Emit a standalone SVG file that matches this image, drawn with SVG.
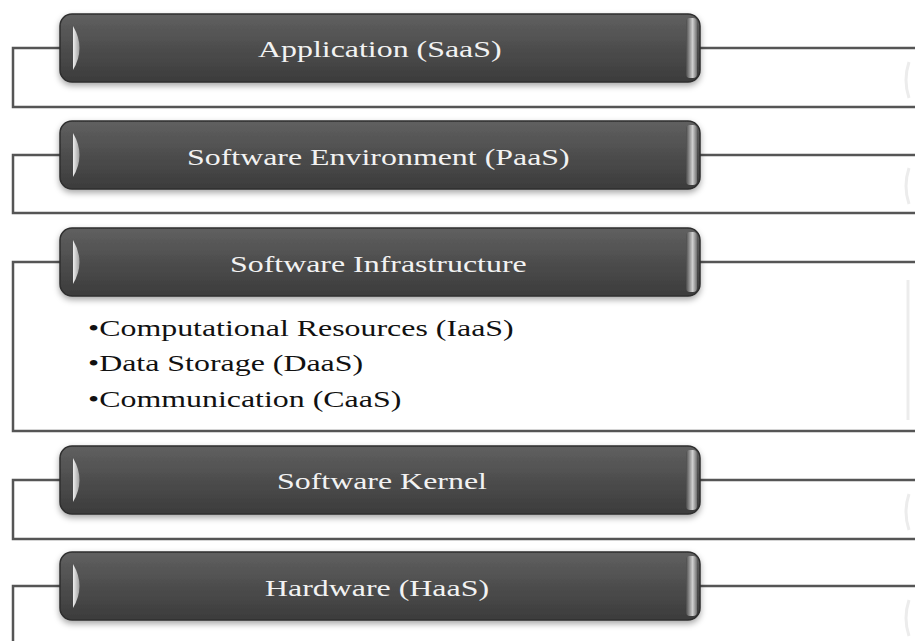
<svg xmlns="http://www.w3.org/2000/svg" width="915" height="641" viewBox="0 0 915 641">
<defs>
<linearGradient id="barG" x1="0" y1="0" x2="0" y2="1">
<stop offset="0" stop-color="#606060"/>
<stop offset="0.5" stop-color="#4d4d4d"/>
<stop offset="1" stop-color="#3c3c3c"/>
</linearGradient>
<linearGradient id="rG" x1="0" y1="0" x2="1" y2="0">
<stop offset="0" stop-color="#4a4a4a"/>
<stop offset="0.6" stop-color="#d0d0d0"/>
<stop offset="1" stop-color="#707070"/>
</linearGradient>
<linearGradient id="lG" x1="0" y1="0" x2="1" y2="0">
<stop offset="0" stop-color="#eeeeee"/>
<stop offset="1" stop-color="#a0a0a0"/>
</linearGradient>
<filter id="sh" x="-5%" y="-20%" width="110%" height="150%">
<feDropShadow dx="0" dy="3" stdDeviation="3" flood-color="#000" flood-opacity="0.35"/>
</filter>
<g id="bar">
<rect x="60" y="0" width="640" height="68" rx="12" fill="url(#barG)" stroke="#2e2e2e" stroke-width="1.5" filter="url(#sh)"/>
<rect x="686" y="4" width="11" height="60" rx="4" fill="url(#rG)"/>
<path d="M73,12 Q86,34 73,56 Z" fill="url(#lG)"/>
</g>
</defs>
<style>
.fr{fill:none;stroke:#555;stroke-width:2.5}
.inner{fill:none;stroke:#ececec;stroke-width:3}
.t{font-family:"Liberation Serif","Times New Roman",serif;font-size:24px;fill:#f2f2f2}
.b{font-family:"Liberation Serif","Times New Roman",serif;font-size:24px;fill:#111}
</style>
<rect width="915" height="641" fill="#ffffff"/>
<g id="connectors">
<path class="fr" d="M60,48 H13 V107 H915 M700,48 H915"/>
<path class="fr" d="M60,155 H13 V213 H915 M700,155 H915"/>
<path class="fr" d="M60,262 H13 V431 H915 M700,262 H915"/>
<path class="fr" d="M60,480 H13 V539 H915 M700,480 H915"/>
<path class="fr" d="M60,586 H13 V645 M700,586 H915"/>
<path class="inner" d="M909,62 Q903,80 909,98"/>
<path class="inner" d="M909,168 Q903,186 909,204"/>
<path class="inner" d="M908,280 V420"/>
<path class="inner" d="M909,494 Q903,512 909,530"/>
<path class="inner" d="M909,600 Q903,618 909,636"/>
</g>
<g id="n1">
<use href="#bar" y="14"/>
<text class="t" transform="translate(258,57) scale(1.33,1)">Application (SaaS)</text>
</g>
<g id="n2">
<use href="#bar" y="121"/>
<text class="t" transform="translate(187,165) scale(1.33,1)">Software Environment (PaaS)</text>
</g>
<g id="n3">
<use href="#bar" y="228"/>
<text class="t" transform="translate(230,272) scale(1.33,1)">Software Infrastructure</text>
<text class="b" transform="translate(88,336) scale(1.33,1)">•Computational Resources (IaaS)</text>
<text class="b" transform="translate(88,371) scale(1.33,1)">•Data Storage (DaaS)</text>
<text class="b" transform="translate(88,407) scale(1.33,1)">•Communication (CaaS)</text>
</g>
<g id="n4">
<use href="#bar" y="446"/>
<text class="t" transform="translate(277,489) scale(1.33,1)">Software Kernel</text>
</g>
<g id="n5">
<use href="#bar" y="552"/>
<text class="t" transform="translate(265,596) scale(1.33,1)">Hardware (HaaS)</text>
</g>
</svg>
